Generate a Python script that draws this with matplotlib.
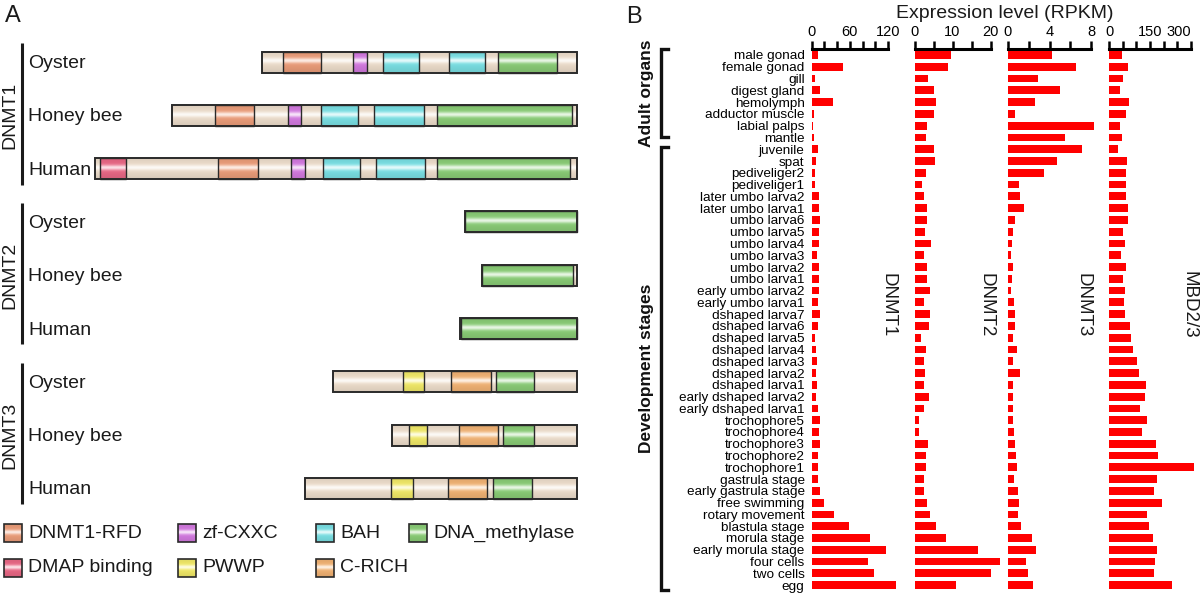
import matplotlib
matplotlib.use("Agg")
import matplotlib.pyplot as plt
import matplotlib.transforms as mtransforms
import numpy as np
from matplotlib.patches import Rectangle
from matplotlib.colors import to_rgb

plt.rcParams['font.family'] = ['Liberation Sans', 'DejaVu Sans']

W, H = 1200, 594

# ---------------- panel A data (amino acid positions) ----------------
domain_colors = {
    "DNMT1-RFD": "#F0A07C",
    "zf-CXXC": "#D77CE4",
    "BAH": "#7CE4E8",
    "DNA_methylase": "#8CD078",
    "DMAP binding": "#EE6A88",
    "PWWP": "#F6EE6A",
    "C-RICH": "#F6B676",
}
body_color = "#F2E2D0"

families = ["DNMT1", "DNMT2", "DNMT3"]
species = ["Oyster", "Honey bee", "Human"]

dnmt1_len = [1054, 1357, 1616]
dnmt1_domains = [
    [("DNMT1-RFD", 69, 196), ("zf-CXXC", 303, 350), ("BAH", 404, 524),
     ("BAH", 625, 745), ("DNA_methylase", 791, 987)],
    [("DNMT1-RFD", 144, 275), ("zf-CXXC", 389, 432), ("BAH", 499, 623),
     ("BAH", 677, 844), ("DNA_methylase", 888, 1340)],
    [("DMAP binding", 17, 104), ("DNMT1-RFD", 412, 546), ("zf-CXXC", 657, 704),
     ("BAH", 764, 889), ("BAH", 941, 1106), ("DNA_methylase", 1146, 1593)],
]
dnmt2_len = [376, 318, 391]
dnmt2_domains = [
    [("DNA_methylase", 1, 375)],
    [("DNA_methylase", 1, 305)],
    [("DNA_methylase", 2, 390)],
]
dnmt3_len = [817, 621, 912]
dnmt3_domains = [
    [("PWWP", 233, 303), ("C-RICH", 395, 529), ("DNA_methylase", 546, 672)],
    [("PWWP", 59, 119), ("C-RICH", 226, 356), ("DNA_methylase", 373, 478)],
    [("PWWP", 290, 362), ("C-RICH", 481, 610), ("DNA_methylase", 630, 762)],
]
lengths = [dnmt1_len, dnmt2_len, dnmt3_len]
domains = [dnmt1_domains, dnmt2_domains, dnmt3_domains]

legend_rows = [["DNMT1-RFD", "zf-CXXC", "BAH", "DNA_methylase"],
               ["DMAP binding", "PWWP", "C-RICH"]]

# ---------------- panel B data (RPKM) ----------------
tissues = ["male gonad", "female gonad", "gill", "digest gland", "hemolymph",
           "adductor muscle", "labial palps", "mantle", "juvenile", "spat",
           "pediveliger2", "pediveliger1", "later umbo larva2", "later umbo larva1",
           "umbo larva6", "umbo larva5", "umbo larva4", "umbo larva3", "umbo larva2",
           "umbo larva1", "early umbo larva2", "early umbo larva1", "dshaped larva7",
           "dshaped larva6", "dshaped larva5", "dshaped larva4", "dshaped larva3",
           "dshaped larva2", "dshaped larva1", "early dshaped larva2",
           "early dshaped larva1", "trochophore5", "trochophore4", "trochophore3",
           "trochophore2", "trochophore1", "gastrula stage", "early gastrula stage",
           "free swimming", "rotary movement", "blastula stage", "morula stage",
           "early morula stage", "four cells", "two cells", "egg"]
n_adult = 8
groups = ["Adult organs", "Development stages"]

dnmt1_rpkm = [10.5, 50, 5, 13, 33, 4, 3, 3.5, 10, 7.5, 5.5, 6, 11.5, 12.5, 13, 11,
              11, 8, 11, 11, 11, 10, 13, 10.5, 6, 7, 9, 7, 9, 7, 10.5, 14, 12.5,
              13.5, 9.5, 10, 10.5, 14, 19, 36, 59, 92, 117, 89, 98, 133]
dnmt2_rpkm = [9.6, 8.7, 3.5, 5, 5.6, 5, 3.2, 3.1, 5, 5.3, 2.9, 2.1, 2.5, 3.3, 3.2,
              2.8, 4.4, 2.4, 3.2, 3.2, 4, 2.4, 4, 3.9, 1.8, 3, 2.6, 2.8, 2.6, 3.8,
              2.4, 1.1, 1.2, 3.5, 3.1, 3.1, 2.6, 2.6, 3.2, 4.1, 5.6, 8.2, 16.7,
              22.4, 20, 10.8]
dnmt3_rpkm = [4.2, 6.6, 2.9, 5.0, 2.6, 0.65, 8.3, 5.5, 7.1, 4.75, 3.5, 1.07, 1.17,
              1.55, 0.63, 0.48, 0.4, 0.25, 0.48, 0.35, 0.3, 0.56, 0.69, 0.7, 0.44,
              0.82, 0.53, 1.12, 0.5, 0.47, 0.52, 0.44, 0.56, 0.69, 0.77, 0.82, 0.56,
              0.92, 1.1, 0.92, 1.26, 2.33, 2.66, 1.7, 1.95, 2.43]
mbd23_rpkm = [47, 69, 51, 39, 72, 63, 41, 47, 34, 66, 62, 63, 62, 68, 68, 52, 59,
              43, 61, 51, 59, 55, 59, 76, 79, 87, 102, 110, 135, 133, 114, 138, 120,
              173, 178, 310, 174, 165, 195, 139, 146, 160, 174, 168, 163, 229]

genes = ["DNMT1", "DNMT2", "DNMT3", "MBD2/3"]
gene_values = [dnmt1_rpkm, dnmt2_rpkm, dnmt3_rpkm, mbd23_rpkm]
axis_max = [120, 20, 8, 300]
major_step = [60, 10, 4, 150]
minor_step = [20, 5, 2, 50]


def gloss(ax, x0, x1, yc, h, color, z=2):
    base = np.array(to_rgb(color))
    t = np.linspace(0, 1, 48)
    hl = 0.8 * np.exp(-((t - 0.45) / 0.12) ** 2)
    shade = 1 - 0.10 * np.abs(t - 0.45) * 2
    rgb = base[None, :] * shade[:, None]
    rgb = rgb + (1 - rgb) * hl[:, None]
    ax.imshow(rgb[:, None, :], extent=(x0, x1, yc + h / 2, yc - h / 2),
              aspect='auto', interpolation='bilinear', zorder=z)


fig = plt.figure(figsize=(W / 100, H / 100), dpi=100)

# ================= panel A =================
aa_per_px = 3.35
right_px = 577
row_px0, row_step = 62, 53.3
axA = fig.add_axes([0, 0, 600 / W, 1])
box_h = 21 / row_step

row = 0
for fam, fam_len, fam_dom in zip(families, lengths, domains):
    first = row
    for sp, L, doms in zip(species, fam_len, fam_dom):
        gloss(axA, -L, 0, row, box_h, body_color)
        for name, s, e in doms:
            gloss(axA, s - L, e - L, row, box_h, domain_colors[name], z=3)
            axA.add_patch(Rectangle((s - L, row - box_h / 2), e - s, box_h, fill=False,
                                    ec="#2a2a2a", lw=1.0, zorder=4))
        axA.add_patch(Rectangle((-L, row - box_h / 2), L, box_h, fill=False,
                                ec="#2a2a2a", lw=1.4, zorder=5))
        axA.text(28 / 600, row + 0.03, sp, transform=axA.get_yaxis_transform(),
                 ha='left', va='center', fontsize=14, color='#1a1a1a')
        row += 1
    last = row - 1
    axA.plot([22 / 600, 22 / 600], [first - 0.36, last + 0.3], color='#1a1a1a', lw=2.2,
             transform=axA.get_yaxis_transform(), solid_capstyle='butt')
    axA.text(10 / 600, (first + last) / 2, fam, transform=axA.get_yaxis_transform(),
             rotation=90, ha='center', va='center', fontsize=14, color='#1a1a1a')

# legend
leg_cols_px = [4, 178, 316, 409]
leg_y = [(533 - row_px0) / row_step, (568 - row_px0) / row_step]
sq = 18
for ly, names in zip(leg_y, legend_rows):
    for cx, name in zip(leg_cols_px, names):
        x0 = (cx - right_px) * aa_per_px
        x1 = (cx + sq - right_px) * aa_per_px
        gloss(axA, x0, x1, ly, sq / row_step, domain_colors[name], z=3)
        axA.add_patch(Rectangle((x0, ly - sq / row_step / 2), x1 - x0, sq / row_step,
                                fill=False, ec="#2a2a2a", lw=1.2, zorder=4))
        axA.text(x1 + 6 * aa_per_px, ly, name, ha='left', va='center', fontsize=14,
                 color='#1a1a1a')

axA.set_xlim(-right_px * aa_per_px, (600 - right_px) * aa_per_px)
axA.set_ylim((H - row_px0) / row_step, -row_px0 / row_step)
axA.set_aspect('auto')
axA.axis('off')

# ================= panel B =================
row_h = 11.78
top_px = 55 - row_h / 2
bot_px = top_px + row_h * len(tissues)
x0_px = [811.5, 914.5, 1008, 1109]
axis_px = [76.5, 76, 83, 82]
y = np.arange(len(tissues))
axesB = []
for i, (g, vals) in enumerate(zip(genes, gene_values)):
    xmax = axis_max[i] * 1.17
    ax = fig.add_axes([x0_px[i] / W, 1 - bot_px / H, axis_px[i] * 1.17 / W,
                       (bot_px - top_px) / H])
    ax.patch.set_alpha(0)
    ax.barh(y, vals, height=0.66, color='#FF0000', zorder=3)
    ax.set_xlim(0, xmax)
    ax.set_ylim(len(tissues) - 0.5, -0.5)
    for s in ['bottom', 'left', 'right']:
        ax.spines[s].set_visible(False)
    ax.spines['top'].set_linewidth(2.2)
    ax.spines['top'].set_bounds(0, axis_max[i])
    ax.xaxis.tick_top()
    majors = np.arange(0, axis_max[i] + 1e-9, major_step[i])
    ax.set_xticks(majors)
    ax.set_xticks(np.arange(0, axis_max[i] + 1e-9, minor_step[i]), minor=True)
    ax.set_xticklabels([f"{v:g}" for v in majors])
    ax.tick_params(axis='x', which='both', direction='out', length=6, width=1.8,
                   labelsize=10.5, pad=1)
    if i == len(genes) - 1:
        ax.get_xticklabels()[-1].set_ha('right')
    if i == 0:
        ax.set_yticks(y)
        ax.set_yticklabels(tissues, fontsize=9.7)
        ax.tick_params(axis='y', length=0, pad=5)
    else:
        ax.set_yticks([])
    axesB.append(ax)

title_x_px = [888, 986, 1083, 1189]
for g, tx in zip(genes, title_x_px):
    fig.text(tx / W, 1 - 305 / H, g, rotation=270, ha='center', va='center',
             fontsize=13.5, color='#1a1a1a')

fig.text(1005 / W, 1 - 13 / H, "Expression level (RPKM)", ha='center', va='center',
         fontsize=14, color='#1a1a1a')

# group brackets
ov = fig.add_axes([0, 0, 1, 1])
ov.set_xlim(0, W)
ov.set_ylim(H, 0)
ov.axis('off')
bt = mtransforms.blended_transform_factory(ov.transData, axesB[0].transData)
spans = [(-0.5, n_adult - 1), (n_adult - 0.2, len(tissues) - 0.6)]
for name, (a, b) in zip(groups, spans):
    ov.plot([668, 661, 661, 668], [a, a, b, b], color='#111111', lw=2.4,
            transform=bt, solid_joinstyle='miter')
    ov.text(647, (a + b) / 2, name, transform=bt, rotation=90, ha='center',
            va='center', fontsize=12.5, fontweight='bold', color='#111111')

ov.text(13, 16, "A", ha='center', va='center', fontsize=17, color='#1a1a1a')
ov.text(634, 17, "B", ha='center', va='center', fontsize=17, color='#1a1a1a')

fig.savefig("out.png", dpi=100)
